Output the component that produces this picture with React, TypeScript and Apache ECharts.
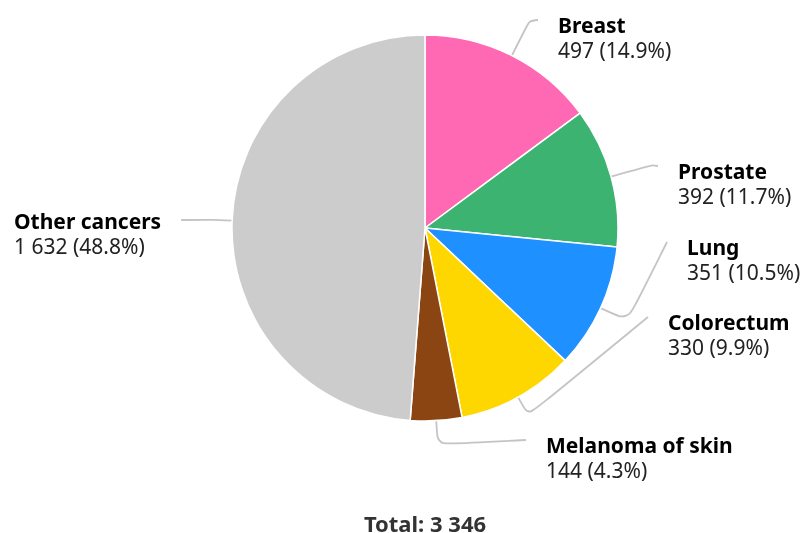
import React, { useEffect, useRef } from 'react';
import * as echarts from 'echarts';

const categories = ['Breast', 'Prostate', 'Lung', 'Colorectum', 'Melanoma of skin', 'Other cancers'];
const values = [497, 392, 351, 330, 144, 1632];
const colors = ['#FF69B4', '#3CB371', '#1E90FF', '#FFD700', '#8B4513', '#CCCCCC'];

// label placement: [left x, centre y of the name row]
const labelAnchors = [[558, 25], [678, 171], [687, 247], [668, 322], [546, 445], [14, 221]];
// radial length of the first label-line segment
const lineLengths = [39, 43, 30, 21, 24, 20];

const CX = 425;
const CY = 228;
const R = 193;
const FONT = '"Noto Sans", "Open Sans", sans-serif';

const fmt = (v: number) => String(v).replace(/\B(?=(\d{3})+(?!\d))/g, ' ');
const total = values.reduce((a, b) => a + b, 0);

export default function App() {
  const ref = useRef<HTMLDivElement>(null);
  useEffect(() => {
    if (!ref.current) return;
    const chart = echarts.init(ref.current, null, { renderer: 'svg' });
    chart.setOption({
      animation: false,
      textStyle: { fontFamily: FONT },
      graphic: [
        {
          type: 'text',
          x: CX,
          y: 523,
          style: {
            text: 'Total: ' + fmt(total),
            fontFamily: FONT,
            fontSize: 22,
            fontWeight: 'bold',
            fill: '#333',
            textAlign: 'center',
            textVerticalAlign: 'middle',
          },
        },
      ],
      series: [
        {
          type: 'pie',
          center: [CX, CY],
          radius: R,
          startAngle: 90,
          clockwise: true,
          avoidLabelOverlap: false,
          itemStyle: { borderColor: '#fff', borderWidth: 1.5 },
          emphasis: { disabled: true },
          label: {
            show: true,
            position: 'outside',
            fontFamily: FONT,
            formatter: (p: any) =>
              '{n|' + p.name + '}\n{v|' + fmt(p.value) + ' (' + ((p.value / total) * 100).toFixed(1) + '%)}',
            rich: {
              n: { fontFamily: FONT, fontSize: 21, fontWeight: 'bold', color: '#000', lineHeight: 25 },
              v: { fontFamily: FONT, fontSize: 21, color: '#222', lineHeight: 25 },
            },
          },
          labelLine: {
            show: true,
            smooth: 0.25,
            lineStyle: { color: '#c4c4c4', width: 1.8 },
          },
          labelLayout: (params: any) => {
            const i = params.dataIndex;
            const [lx, ny] = labelAnchors[i];
            const pts = params.labelLinePoints;
            const rect = params.labelRect;
            const leftSide = lx < CX;
            const endX = leftSide ? lx + rect.width + 20 : lx - 20;
            const endY = leftSide ? ny - 1 : ny - 5;
            const out: any = { x: lx, y: ny - 12.5, align: 'left', verticalAlign: 'top' };
            if (pts && pts.length >= 2) {
              out.labelLinePoints = [pts[0], pts[1], [endX, endY]];
            }
            return out;
          },
          data: categories.map((name, i) => ({
            name,
            value: values[i],
            itemStyle: { color: colors[i] },
            labelLine: { length: lineLengths[i], length2: 0 },
          })),
        },
      ],
    });
    return () => chart.dispose();
  }, []);
  return <div ref={ref} style={{ position: 'fixed', left: 0, top: 0, width: 802, height: 533 }} />;
}
